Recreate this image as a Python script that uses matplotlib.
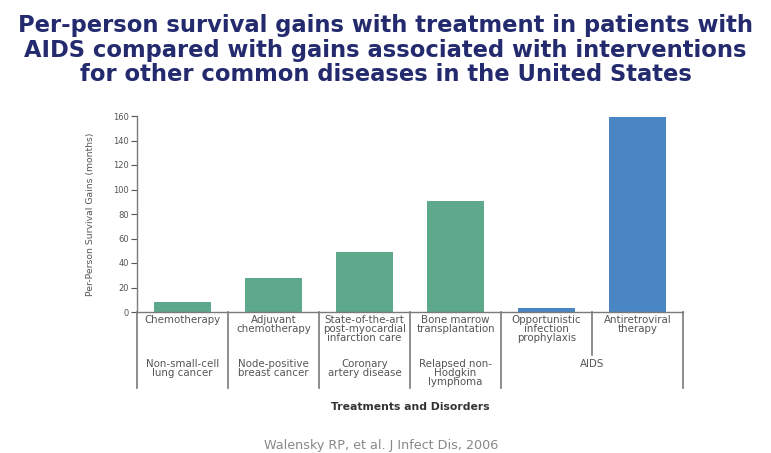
import matplotlib
matplotlib.use("Agg")
import matplotlib.pyplot as plt
import matplotlib.transforms as mtransforms

# === DATA ===
treatments = ["Chemotherapy", "Adjuvant\nchemotherapy", "State-of-the-art\npost-myocardial\ninfarction care",
              "Bone marrow\ntransplantation", "Opportunistic\ninfection\nprophylaxis", "Antiretroviral\ntherapy"]
gains = [8, 28, 49, 91, 3, 159]
bar_colors = ["#5ea98c", "#5ea98c", "#5ea98c", "#5ea98c", "#4a85c4", "#4a85c4"]
disorders = ["Non-small-cell\nlung cancer", "Node-positive\nbreast cancer", "Coronary\nartery disease",
             "Relapsed non-\nHodgkin\nlymphoma", "AIDS"]
disorder_pos = [0, 1, 2, 3, 4.5]
yticks = [0, 20, 40, 60, 80, 100, 120, 140, 160]

TITLE = ("Per-person survival gains with treatment in patients with\n"
         "AIDS compared with gains associated with interventions\n"
         "for other common diseases in the United States")
GRAY = "#555555"
LINE = "#7a7a7a"

fig = plt.figure(figsize=(7.71, 4.53), dpi=100)
ax = fig.add_axes([137 / 771, 1 - 312 / 453, 546 / 771, 196 / 453])

x = list(range(len(gains)))
ax.bar(x, gains, width=0.63, color=bar_colors)
ax.set_xlim(-0.5, 5.5)
ax.set_ylim(0, 160)
ax.set_yticks(yticks)
ax.set_xticks([])
ax.tick_params(axis="y", length=4, width=0.8, pad=2, labelsize=6, colors=GRAY)
for s in ["top", "right"]:
    ax.spines[s].set_visible(False)
for s in ["left", "bottom"]:
    ax.spines[s].set_color(LINE)
    ax.spines[s].set_linewidth(1.0)

ax.set_ylabel("Per-Person Survival Gains (months)", fontsize=6.7, color=GRAY)
ax.yaxis.set_label_coords(-0.077, 0.5)

# category separators below the axis
trans = mtransforms.blended_transform_factory(ax.transData, ax.transAxes)
for xs in [-0.5, 0.5, 1.5, 2.5, 3.5, 5.5]:
    ax.plot([xs, xs], [0, -0.388], transform=trans, color=LINE, lw=1.2, clip_on=False)
ax.plot([4.5, 4.5], [0, -0.219], transform=trans, color=LINE, lw=1.2, clip_on=False)

for xi, t in zip(x, treatments):
    ax.text(xi, -0.015, t, transform=trans, ha="center", va="top", fontsize=7.4,
            color=GRAY, linespacing=0.9)
for xp, d in zip(disorder_pos, disorders):
    ax.text(xp, -0.24, d, transform=trans, ha="center", va="top", fontsize=7.4,
            color=GRAY, linespacing=0.9)

ax.text(0.5, -0.485, "Treatments and Disorders", transform=ax.transAxes, ha="center",
        va="center", fontsize=7.8, fontweight="bold", color="#333333")

fig.text(0.5, 1 - 50 / 453, TITLE, ha="center", va="center", fontsize=16.3,
         fontweight="bold", color="#232a6e", family="DejaVu Sans", linespacing=1.06)
fig.text(381 / 771, 1 - 445 / 453, "Walensky RP, et al. J Infect Dis, 2006", ha="center",
         va="center", fontsize=9.2, color="#888888")

fig.savefig("out.png", dpi=100)
